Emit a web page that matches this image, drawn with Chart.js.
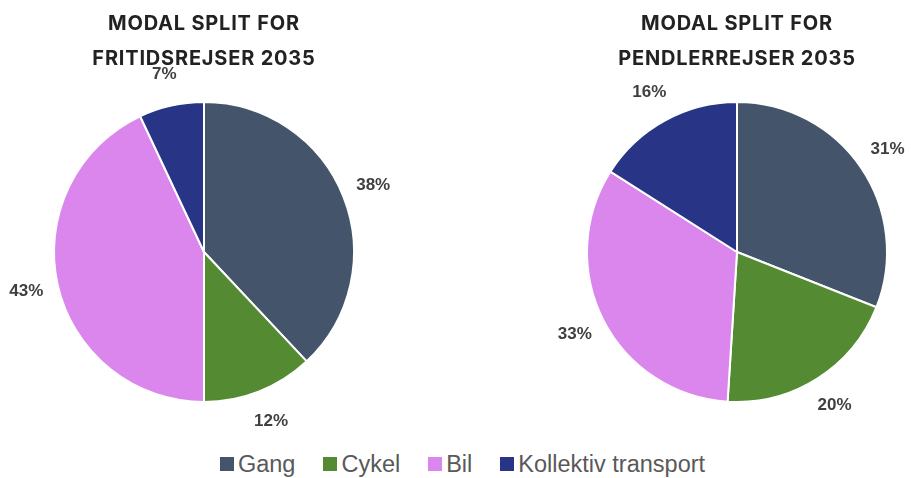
<!DOCTYPE html>
<html>
<head>
<meta charset="utf-8">
<script src="https://cdn.jsdelivr.net/npm/chart.js@4"></script>
<style>
  html, body { margin: 0; padding: 0; background: #fff; overflow: hidden; }
  body { width: 911px; height: 478px; position: relative; }
  .box { position: absolute; top: 0; height: 440px; }
  #legend { position: absolute; left: 14px; width: 897px; top: 451px; text-align: center; white-space: nowrap;
            font-family: "Liberation Sans", Arial, sans-serif; font-size: 23.5px; color: #595959; }
  #legend span.item { margin: 0 14px; white-space: nowrap; }
  #legend i { display: inline-block; width: 14px; height: 14px; margin-right: 4px; vertical-align: 1px; }
</style>
</head>
<body>
<div class="box" style="left:0;width:408px"><canvas id="leisureChart"></canvas></div>
<div class="box" style="left:480px;width:431px"><canvas id="commuteChart"></canvas></div>
<div id="legend"></div>
<script>
const categories = ['Gang', 'Cykel', 'Bil', 'Kollektiv transport'];
const leisureValues = [38, 12, 43, 7];
const commuteValues = [31, 20, 33, 16];
const colors = ['#44546a', '#548b32', '#db86ec', '#283586'];

document.addEventListener('DOMContentLoaded', () => {
    // percent labels placed just outside each slice
    const outsideLabels = {
        id: 'outsideLabels',
        beforeDraw(chart) { chart.ctx.letterSpacing = '0.8px'; },
        afterDatasetsDraw(chart) {
            const ctx = chart.ctx;
            ctx.save();
            ctx.letterSpacing = '0px';
            ctx.font = 'bold 17px "Liberation Sans", Arial, sans-serif';
            ctx.fillStyle = '#404040';
            ctx.textAlign = 'center';
            ctx.textBaseline = 'middle';
            const meta = chart.getDatasetMeta(0);
            meta.data.forEach((arc, i) => {
                const mid = (arc.startAngle + arc.endAngle) / 2;
                const r = arc.outerRadius + 32;
                ctx.fillText(chart.data.datasets[0].data[i] + '%', arc.x + Math.cos(mid) * r, arc.y + Math.sin(mid) * r);
            });
            ctx.restore();
        },
    };

    const makePie = (el, values, title, padLeft) => new Chart(el, {
        type: 'pie',
        data: {
            labels: categories,
            datasets: [{ data: values, backgroundColor: colors, borderColor: '#ffffff', borderWidth: 2, hoverOffset: 0 }],
        },
        options: {
            responsive: true,
            maintainAspectRatio: false,
            animation: false,
            layout: { padding: { top: 0, bottom: 37, left: padLeft, right: 0 } },
            plugins: {
                legend: { display: false },
                tooltip: { enabled: false },
                title: {
                    display: true,
                    text: title,
                    color: '#222222',
                    font: { family: 'Inter, "Open Sans", sans-serif', size: 20, weight: 'bold', lineHeight: 1.75 },
                    padding: { top: 6.5, bottom: 24.5 },
                },
            },
        },
        plugins: [outsideLabels],
    });

    makePie(document.getElementById('leisureChart'), leisureValues, ['MODAL SPLIT FOR', 'FRITIDSREJSER 2035'], 0);
    makePie(document.getElementById('commuteChart'), commuteValues, ['MODAL SPLIT FOR', 'PENDLERREJSER 2035'], 83);

    const legend = document.getElementById('legend');
    legend.innerHTML = categories.map((c, i) =>
        `<span class="item"><i style="background:${colors[i]}"></i>${c}</span>`).join('');
});
</script>
</body>
</html>
